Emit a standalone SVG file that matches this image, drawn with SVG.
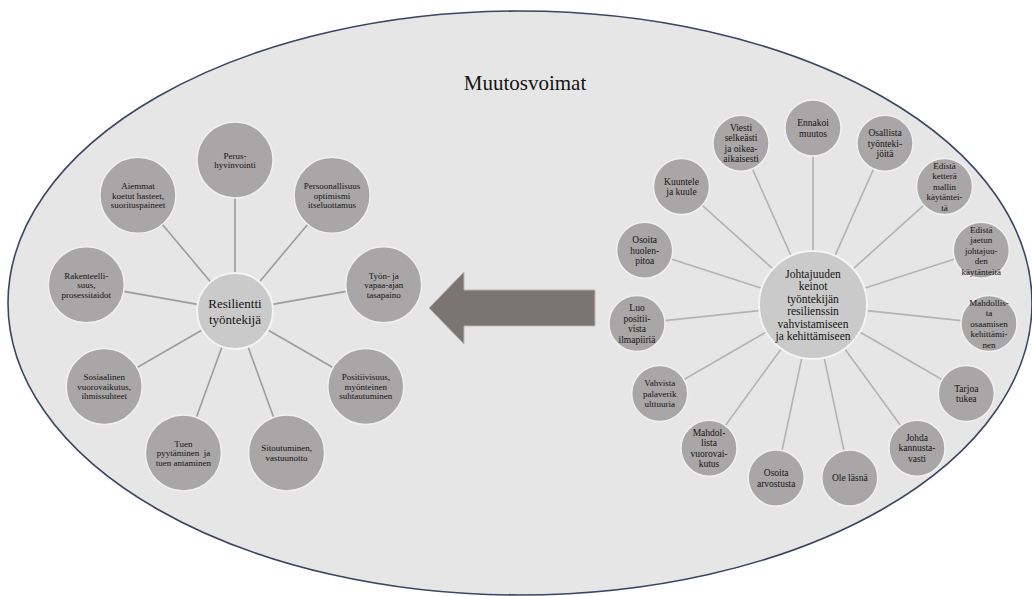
<svg xmlns="http://www.w3.org/2000/svg" width="1032" height="596" viewBox="0 0 1032 596">
  <style>
    .bg { fill: #e7e6e7; stroke: #3b4563; stroke-width: 1.6; }
    .spoke-l { stroke: #9d9c9c; stroke-width: 1.6; fill: none; }
    .spoke-r { stroke: #b4b3b3; stroke-width: 1.6; fill: none; }
    .hub { fill: #cbcaca; stroke: #f4f4f4; stroke-width: 2; }
    .leaf { fill: #a8a6a6; stroke: #f0f0f0; stroke-width: 1.5; }
    text { font-family: "Liberation Serif", "Times New Roman", serif; fill: #141414; text-anchor: middle; }
    .t-leaf { font-size: 9px; }
    .t-small { font-size: 9.5px; }
    .t-hub-l { font-size: 13px; }
    .t-hub-r { font-size: 11.5px; }
    .title { font-size: 21px; }
    .arrow { fill: #7a7472; stroke: #b9b3b0; stroke-width: 1; }
  </style>

  <!-- surrounding field -->
  <ellipse class="bg" cx="520" cy="303" rx="512" ry="292"/>
  <text class="title" x="525" y="90">Muutosvoimat</text>

  <!-- connectors -->
  <g id="connectors">
    <g id="spokes-left">
      <line class="spoke-l" x1="235" y1="273" x2="235" y2="198"/>
      <line class="spoke-l" x1="259.4" y1="281.9" x2="307.6" y2="224.4"/>
      <line class="spoke-l" x1="272.4" y1="304.4" x2="346.3" y2="291.4"/>
      <line class="spoke-l" x1="267.9" y1="330" x2="332.9" y2="367.5"/>
      <line class="spoke-l" x1="248" y1="346.7" x2="273.6" y2="417.2"/>
      <line class="spoke-l" x1="222" y1="346.7" x2="196.4" y2="417.2"/>
      <line class="spoke-l" x1="202.1" y1="330" x2="137.1" y2="367.5"/>
      <line class="spoke-l" x1="197.6" y1="304.4" x2="123.7" y2="291.4"/>
      <line class="spoke-l" x1="210.6" y1="281.9" x2="162.4" y2="224.4"/>
    </g>
    <g id="spokes-right">
      <line class="spoke-r" x1="813" y1="251" x2="813" y2="156"/>
      <line class="spoke-r" x1="835" y1="255.7" x2="873.6" y2="168.9"/>
      <line class="spoke-r" x1="853.1" y1="268.9" x2="923.7" y2="205.3"/>
      <line class="spoke-r" x1="864.4" y1="288.3" x2="954.7" y2="259"/>
      <line class="spoke-r" x1="866.7" y1="310.6" x2="961.2" y2="320.6"/>
      <line class="spoke-r" x1="859.8" y1="332" x2="942" y2="379.5"/>
      <line class="spoke-r" x1="844.7" y1="348.7" x2="900.6" y2="425.5"/>
      <line class="spoke-r" x1="824.2" y1="357.8" x2="844" y2="450.7"/>
      <line class="spoke-r" x1="801.8" y1="357.8" x2="782" y2="450.7"/>
      <line class="spoke-r" x1="781.3" y1="348.7" x2="725.4" y2="425.5"/>
      <line class="spoke-r" x1="766.2" y1="332" x2="684" y2="379.5"/>
      <line class="spoke-r" x1="759.3" y1="310.6" x2="664.8" y2="320.6"/>
      <line class="spoke-r" x1="761.6" y1="288.3" x2="671.3" y2="259"/>
      <line class="spoke-r" x1="772.9" y1="268.9" x2="702.3" y2="205.3"/>
      <line class="spoke-r" x1="791" y1="255.7" x2="752.4" y2="168.9"/>
    </g>
    <!-- block arrow from the leadership cluster to the employee -->
    <polygon id="arrow" class="arrow" points="429,308 464,272 464,290 595,290 595,326 464,326 464,344"/>
  </g>

  <!-- left cluster -->
  <g id="resilientti">
    <circle class="hub" cx="235" cy="311" r="38"/>
    <text class="t-hub-l"><tspan x="235" y="307.5">Resilientti</tspan><tspan x="235" y="323.5">työntekijä</tspan></text>
  </g>
  <g id="perushyvinvointi">
    <circle class="leaf" cx="235" cy="160" r="38"/>
    <text class="t-leaf"><tspan x="235" y="158.5">Perus-</tspan><tspan x="235" dy="9.5">hyvinvointi</tspan></text>
  </g>
  <g id="persoonallisuus">
    <circle class="leaf" cx="332.1" cy="195.3" r="38"/>
    <text class="t-leaf"><tspan x="332.1" y="189">Persoonallisuus</tspan><tspan x="332.1" dy="9.5">optimismi</tspan><tspan x="332.1" dy="9.5">itseluottamus</tspan></text>
  </g>
  <g id="tasapaino">
    <circle class="leaf" cx="383.7" cy="284.8" r="38"/>
    <text class="t-leaf"><tspan x="383.7" y="278.5">Työn- ja</tspan><tspan x="383.7" dy="9.5">vapaa-ajan</tspan><tspan x="383.7" dy="9.5">tasapaino</tspan></text>
  </g>
  <g id="positiivisuus">
    <circle class="leaf" cx="365.8" cy="386.5" r="38"/>
    <text class="t-leaf"><tspan x="365.8" y="380.2">Positiivisuus,</tspan><tspan x="365.8" dy="9.5">myönteinen</tspan><tspan x="365.8" dy="9.5">suhtautuminen</tspan></text>
  </g>
  <g id="sitoutuminen">
    <circle class="leaf" cx="286.6" cy="452.9" r="38"/>
    <text class="t-leaf"><tspan x="286.6" y="451.3">Sitoutuminen,</tspan><tspan x="286.6" dy="9.5">vastuunotto</tspan></text>
  </g>
  <g id="tuki">
    <circle class="leaf" cx="183.4" cy="452.9" r="38"/>
    <text class="t-leaf"><tspan x="183.4" y="446.6">Tuen</tspan><tspan x="183.4" dy="9.5">pyytäminen&#160; ja</tspan><tspan x="183.4" dy="9.5">tuen antaminen</tspan></text>
  </g>
  <g id="sosiaalinen">
    <circle class="leaf" cx="104.2" cy="386.5" r="38"/>
    <text class="t-leaf"><tspan x="104.2" y="380.2">Sosiaalinen</tspan><tspan x="104.2" dy="9.5">vuorovaikutus,</tspan><tspan x="104.2" dy="9.5">ihmissuhteet</tspan></text>
  </g>
  <g id="rakenteellisuus">
    <circle class="leaf" cx="86.3" cy="284.8" r="38"/>
    <text class="t-leaf"><tspan x="86.3" y="278.5">Rakenteelli-</tspan><tspan x="86.3" dy="9.5">suus,</tspan><tspan x="86.3" dy="9.5">prosessitaidot</tspan></text>
  </g>
  <g id="aiemmat">
    <circle class="leaf" cx="137.9" cy="195.3" r="38"/>
    <text class="t-leaf"><tspan x="137.9" y="189">Aiemmat</tspan><tspan x="137.9" dy="9.5">koetut hasteet,</tspan><tspan x="137.9" dy="9.5">suorituspaineet</tspan></text>
  </g>

  <!-- right cluster -->
  <g id="johtajuus">
    <circle class="hub" cx="813" cy="305" r="54"/>
    <text class="t-hub-r"><tspan x="813" y="278">Johtajuuden</tspan><tspan x="813" dy="12.4">keinot</tspan><tspan x="813" dy="12.4">työntekijän</tspan><tspan x="813" dy="12.4">resilienssin</tspan><tspan x="813" dy="12.4">vahvistamiseen</tspan><tspan x="813" dy="12.4">ja kehittämiseen</tspan></text>
  </g>
  <g id="ennakoi">
    <circle class="leaf" cx="813" cy="128" r="28"/>
    <text class="t-small"><tspan x="813" y="126">Ennakoi</tspan><tspan x="813" dy="10.5">muutos</tspan></text>
  </g>
  <g id="osallista">
    <circle class="leaf" cx="885" cy="143.3" r="28"/>
    <text class="t-small"><tspan x="885" y="136">Osallista</tspan><tspan x="885" dy="10.5">työnteki-</tspan><tspan x="885" dy="10.5">jöitä</tspan></text>
  </g>
  <g id="ketterä">
    <circle class="leaf" cx="944.5" cy="186.6" r="28"/>
    <text class="t-leaf"><tspan x="944.5" y="168.8">Edistä</tspan><tspan x="944.5" dy="10.5">ketterä</tspan><tspan x="944.5" dy="10.5">mallin</tspan><tspan x="944.5" dy="10.5">käytäntei-</tspan><tspan x="944.5" dy="10.5">tä</tspan></text>
  </g>
  <g id="jaettu">
    <circle class="leaf" cx="981.3" cy="250.3" r="28"/>
    <text class="t-leaf"><tspan x="981.3" y="232.5">Edistä</tspan><tspan x="981.3" dy="10.5">jaetun</tspan><tspan x="981.3" dy="10.5">johtajuu-</tspan><tspan x="981.3" dy="10.5">den</tspan><tspan x="981.3" dy="10.5">käytänteitä</tspan></text>
  </g>
  <g id="osaaminen">
    <circle class="leaf" cx="989" cy="323.5" r="28"/>
    <text class="t-leaf"><tspan x="989" y="305.7">Mahdollis-</tspan><tspan x="989" dy="10.5">ta</tspan><tspan x="989" dy="10.5">osaamisen</tspan><tspan x="989" dy="10.5">kehittämi-</tspan><tspan x="989" dy="10.5">nen</tspan></text>
  </g>
  <g id="tarjoa">
    <circle class="leaf" cx="966.3" cy="393.5" r="28"/>
    <text class="t-small"><tspan x="966.3" y="391.5">Tarjoa</tspan><tspan x="966.3" dy="10.5">tukea</tspan></text>
  </g>
  <g id="johda">
    <circle class="leaf" cx="917" cy="448.2" r="28"/>
    <text class="t-small"><tspan x="917" y="440.9">Johda</tspan><tspan x="917" dy="10.5">kannusta-</tspan><tspan x="917" dy="10.5">vasti</tspan></text>
  </g>
  <g id="läsnä">
    <circle class="leaf" cx="849.8" cy="478.1" r="28"/>
    <text class="t-small"><tspan x="849.8" y="481.4">Ole läsnä</tspan></text>
  </g>
  <g id="arvostus">
    <circle class="leaf" cx="776.2" cy="478.1" r="28"/>
    <text class="t-small"><tspan x="776.2" y="476">Osoita</tspan><tspan x="776.2" dy="10.5">arvostusta</tspan></text>
  </g>
  <g id="vuorovaikutus">
    <circle class="leaf" cx="709" cy="448.2" r="28"/>
    <text class="t-small"><tspan x="709" y="435.6">Mahdol-</tspan><tspan x="709" dy="10.5">lista</tspan><tspan x="709" dy="10.5">vuorovai-</tspan><tspan x="709" dy="10.5">kutus</tspan></text>
  </g>
  <g id="palaveri">
    <circle class="leaf" cx="659.7" cy="393.5" r="28"/>
    <text class="t-leaf"><tspan x="659.7" y="386.2">Vahvista</tspan><tspan x="659.7" dy="10.5">palaverik</tspan><tspan x="659.7" dy="10.5">ulttuuria</tspan></text>
  </g>
  <g id="ilmapiiri">
    <circle class="leaf" cx="637" cy="323.5" r="28"/>
    <text class="t-small"><tspan x="637" y="311">Luo</tspan><tspan x="637" dy="10.5">positii-</tspan><tspan x="637" dy="10.5">vista</tspan><tspan x="637" dy="10.5">ilmapiiriä</tspan></text>
  </g>
  <g id="huolenpito">
    <circle class="leaf" cx="644.7" cy="250.3" r="28"/>
    <text class="t-small"><tspan x="644.7" y="243">Osoita</tspan><tspan x="644.7" dy="10.5">huolen-</tspan><tspan x="644.7" dy="10.5">pitoa</tspan></text>
  </g>
  <g id="kuuntele">
    <circle class="leaf" cx="681.5" cy="186.6" r="28"/>
    <text class="t-small"><tspan x="681.5" y="184.5">Kuuntele</tspan><tspan x="681.5" dy="10.5">ja kuule</tspan></text>
  </g>
  <g id="viesti">
    <circle class="leaf" cx="741" cy="143.3" r="28"/>
    <text class="t-small"><tspan x="741" y="130.8">Viesti</tspan><tspan x="741" dy="10.5">selkeästi</tspan><tspan x="741" dy="10.5">ja oikea-</tspan><tspan x="741" dy="10.5">aikaisesti</tspan></text>
  </g>
</svg>
